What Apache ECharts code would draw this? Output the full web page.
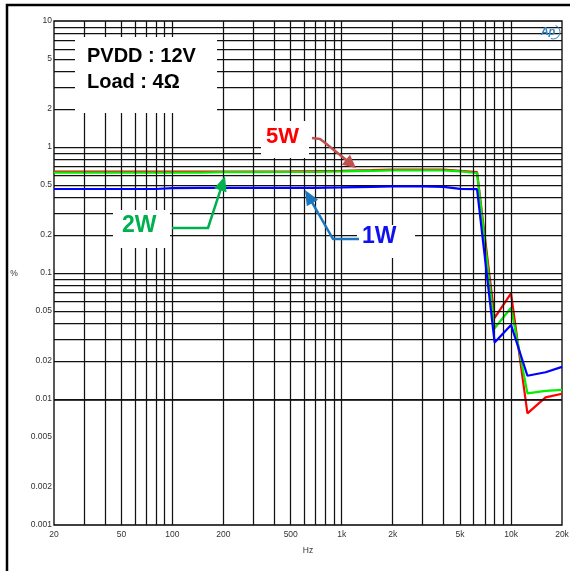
<!DOCTYPE html>
<html><head><meta charset="utf-8">
<script src="https://cdn.jsdelivr.net/npm/echarts@6/dist/echarts.min.js"></script>
<style>html,body{margin:0;padding:0;background:#fff}#c{width:570px;height:571px}</style>
</head><body><div id="c"></div>
<script>
// ---- data ----
const freq = [20, 30, 50, 80, 100, 150, 200, 300, 500, 700, 1000, 1500, 2000, 3000, 4000, 5000, 6300, 8000, 10000, 12500, 16000, 20000];
const thd5W = [0.637, 0.637, 0.637, 0.637, 0.637, 0.637, 0.638, 0.638, 0.64, 0.643, 0.648, 0.655, 0.662, 0.662, 0.662, 0.648, 0.632, 0.044, 0.069, 0.0077, 0.0103, 0.011];
const thd2W = [0.626, 0.626, 0.626, 0.626, 0.626, 0.626, 0.631, 0.632, 0.633, 0.635, 0.64, 0.647, 0.652, 0.652, 0.652, 0.64, 0.622, 0.0364, 0.053, 0.0111, 0.0116, 0.0118];
const thd1W = [0.464, 0.464, 0.464, 0.464, 0.472, 0.473, 0.473, 0.473, 0.473, 0.474, 0.478, 0.483, 0.487, 0.487, 0.482, 0.466, 0.463, 0.0281, 0.0387, 0.0153, 0.0163, 0.018];
const xTickLabels = [[20,'20'],[50,'50'],[100,'100'],[200,'200'],[500,'500'],[1000,'1k'],[2000,'2k'],[5000,'5k'],[10000,'10k'],[20000,'20k']];
const yTickLabels = [[10,'10'],[5,'5'],[2,'2'],[1,'1'],[0.5,'0.5'],[0.2,'0.2'],[0.1,'0.1'],[0.05,'0.05'],[0.02,'0.02'],[0.01,'0.01'],[0.005,'0.005'],[0.002,'0.002'],[0.001,'0.001']];
const xGrid = [30,40,50,60,70,80,90,100,200,300,400,500,600,700,800,900,1000,2000,3000,4000,5000,6000,7000,8000,9000,10000];
const yGrid = [0.002,0.003,0.004,0.005,0.006,0.007,0.008,0.009,0.01,0.02,0.03,0.04,0.05,0.06,0.07,0.08,0.09,0.1,0.2,0.3,0.4,0.5,0.6,0.7,0.8,0.9,1,2,3,4,5,6,7,8,9];

const chart = echarts.init(document.getElementById('c'), null, {renderer:'canvas'});
const FONT = '"Liberation Sans", Arial, sans-serif';
const pts = arr => freq.map((f,i)=>[f, arr[i]]);
const gridLines = [].concat(xGrid.map(v=>({xAxis:v})), yGrid.map(v=>({yAxis:v})));

chart.setOption({
  animation:false,
  backgroundColor:'#fff',
  grid:{left:54,right:8,top:21,bottom:46,show:true,borderColor:'#000',borderWidth:1.3,backgroundColor:'transparent'},
  xAxis:{type:'log',logBase:10,min:20,max:20000,axisLine:{show:false},axisTick:{show:false},axisLabel:{show:false},splitLine:{show:false},minorSplitLine:{show:false}},
  yAxis:{type:'log',logBase:10,min:0.001,max:10,axisLine:{show:false},axisTick:{show:false},axisLabel:{show:false},splitLine:{show:false}},
  series:[
    {type:'line',data:[],z:1,silent:true,
     markLine:{silent:true,symbol:['none','none'],label:{show:false},animation:false,
       lineStyle:{color:'#111',width:1.25,type:'solid'},emphasis:{disabled:true},data:gridLines}},
    {name:'5W',type:'line',data:pts(thd5W),showSymbol:false,z:3,lineStyle:{color:'#ff0000',width:2.2},itemStyle:{color:'#ff0000'}},
    {name:'2W',type:'line',data:pts(thd2W),showSymbol:false,z:4,lineStyle:{color:'#00f000',width:2.2},itemStyle:{color:'#00f000'}},
    {name:'1W',type:'line',data:pts(thd1W),showSymbol:false,z:5,lineStyle:{color:'#0000ff',width:2.2},itemStyle:{color:'#0000ff'}}
  ]
});

function txt(x,y,t,opt){
  opt=opt||{};
  return {type:'text',z:200,silent:true,style:Object.assign({x:x,y:y,text:t,font:(opt.weight||'normal')+' '+(opt.size||9)+'px '+FONT,
    fill:opt.color||'#333',align:opt.align||'left',verticalAlign:'middle',textAlign:opt.align||'left',textVerticalAlign:'middle'})};
}
function rect(x,y,w,h){return {type:'rect',z:150,silent:true,shape:{x:x,y:y,width:w,height:h},style:{fill:'#fff'}};}
function arrow(points,color,hl,hw){
  const n=points.length, tip=points[n-1], prev=points[n-2];
  const dx=tip[0]-prev[0], dy=tip[1]-prev[1], L=Math.hypot(dx,dy), ux=dx/L, uy=dy/L;
  const bx=tip[0]-ux*hl, by=tip[1]-uy*hl;
  const line=points.slice(0,n-1).concat([[bx+ux*2,by+uy*2]]);
  return [
    {type:'polyline',z:210,silent:true,shape:{points:line},style:{stroke:color,lineWidth:2.5,fill:null,lineJoin:'round'}},
    {type:'polygon',z:210,silent:true,shape:{points:[tip,[bx-uy*hw,by+ux*hw],[bx+uy*hw,by-ux*hw]]},style:{fill:color}}
  ];
}

const g=[];
const yB = chart.convertToPixel({yAxisIndex:0},0.001);
const xL = chart.convertToPixel({xAxisIndex:0},20);
xTickLabels.forEach(([v,t])=>{ g.push(txt(chart.convertToPixel({xAxisIndex:0},v), yB+10, t, {align:'center',size:8.5})); });
yTickLabels.forEach(([v,t])=>{ g.push(txt(xL-2, chart.convertToPixel({yAxisIndex:0},v), t, {align:'right',size:8.5})); });
g.push(txt(308,551,'Hz',{align:'center',size:8.5}));
g.push(txt(14,274,'%',{align:'center',size:8.5}));
// frame
g.push({type:'polyline',z:220,silent:true,shape:{points:[[7,571],[7,5],[570,5]]},style:{stroke:'#000',lineWidth:2.5,fill:null}});
// info box
g.push(rect(75,37,142,76));
g.push(txt(87,56.5,'PVDD : 12V',{size:20,weight:'bold',color:'#000'}));
g.push(txt(87,82,'Load : 4Ω',{size:20,weight:'bold',color:'#000'}));
// 5W
g.push(rect(261,121,48,37));
g.push(txt(266,137,'5W',{size:22,weight:'bold',color:'#ff0000'}));
g.push.apply(g, arrow([[312,138],[320,139],[324,142],[356,168]],'#c0504d',13,6.5));
// 2W
g.push(rect(113,210,57,38));
g.push(txt(122,226,'2W',{size:23,weight:'bold',color:'#00b050'}));
g.push.apply(g, arrow([[172,228],[208,228],[225,176]],'#00b050',15,6.5));
// 1W
g.push(rect(357,225,58,33));
g.push(txt(362,237,'1W',{size:23,weight:'bold',color:'#1010f0'}));
g.push.apply(g, arrow([[359,239],[333,239],[305,190]],'#1a75bc',15,6.5));
// AP logo
g.push({type:'arc',z:200,silent:true,shape:{cx:553,cy:32,r:7,startAngle:-1.2,endAngle:1.9},style:{stroke:'#2e86c1',lineWidth:1,fill:null}});
g.push(txt(548,32,'Ap',{size:11,weight:'bold',color:'#2e86c1',align:'center'}));
g[g.length-1].style.font='italic bold 11px '+FONT;

chart.setOption({graphic:g});
</script></body></html>
